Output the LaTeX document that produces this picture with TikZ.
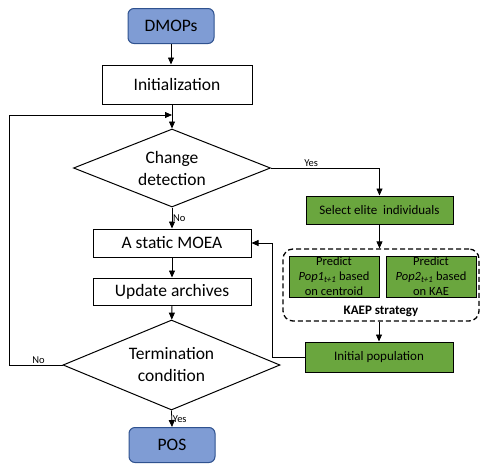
\documentclass[tikz,border=0pt]{standalone}
\usepackage{fontspec}
\setmainfont{Carlito}
\usetikzlibrary{shapes.geometric,arrows.meta}

\definecolor{boxblue}{RGB}{127,156,212}
\definecolor{edgeblue}{RGB}{47,82,143}
\definecolor{boxgreen}{RGB}{106,166,62}

\begin{document}
\begin{tikzpicture}[x=1pt,y=1pt,yscale=-1,xscale=1,
  startstop/.style={draw=edgeblue,fill=boxblue,rounded corners=6pt,line width=1pt,minimum width=86pt,minimum height=35pt,font=\fontsize{17.5}{21}\selectfont},
  process/.style={draw,line width=1pt,minimum height=28pt,font=\fontsize{17.5}{21}\selectfont},
  decision/.style={draw,diamond,line width=1pt,align=center,inner sep=0pt,font=\fontsize{17.5}{22}\selectfont},
  greenbox/.style={draw,fill=boxgreen,line width=1pt,font=\fontsize{13}{16}\selectfont},
  predict/.style={greenbox,align=center,inner sep=0pt,minimum width=90pt,minimum height=41pt,font=\fontsize{12.5}{15}\selectfont},
  flow/.style={-{Triangle[length=7pt,width=6pt]},line width=0.8pt},
  tag/.style={inner sep=0.75pt,font=\fontsize{10.5}{12}\selectfont}]
\useasboundingbox (0,0) rectangle (480,464);

% main column
\node [startstop] (dmops) at (171,26) {DMOPs};
\node [process,minimum width=150pt,minimum height=39pt] (init) at (177,84.5) {Initialization};
\node [decision,shape aspect=2.53,minimum width=197pt,minimum height=78pt] (change) at (172,168) {Change\\detection};
\node [process,minimum width=158pt] (moea) at (172,243) {A static MOEA};
\node [process,minimum width=158pt,minimum height=27pt] (update) at (172,291.5) {Update archives};
\node [decision,shape aspect=2.41,minimum width=217pt,minimum height=90pt] (term) at (171.5,365) {Termination\\condition};
\node [startstop] (pos) at (172,445) {POS};

% KAEP side
\node [greenbox,minimum width=147pt,minimum height=28pt] (elite) at (379.5,210) {Select elite\ \ individuals};
\node [draw,dash pattern={on 5pt off 3pt},line width=1.3pt,rounded corners=10pt,minimum width=196pt,minimum height=72pt] (kaep) at (381,285) {};
\node [predict] (pred1) at (334,276.5) {Predict\\\textit{Pop1}\textsubscript{\textit{t+1}} based\\on centroid};
\node [predict] (pred2) at (431,276.5) {Predict\\\textit{Pop2}\textsubscript{\textit{t+1}} based\\on KAE};
\node [inner sep=0.75pt,font=\fontsize{13}{15}\selectfont\bfseries] (kaeptext) at (381,311) {KAEP strategy};
\node [greenbox,minimum width=148pt,minimum height=30pt] (initpop) at (379,357) {Initial population};

\coordinate (loop) at (9,115);
\coordinate (back) at (272,243);

% Straight Lines
\draw [flow] (dmops.south) -- (dmops.south |- init.north);
\draw [flow] (change.north |- init.south) -- (change.north);
\draw [flow] (change.south) -- (moea.north) node [tag,midway,right] {No};
\draw [flow] (moea) -- (update);
\draw [flow] (update) -- (term);
\draw [flow] (term.south) -- (pos.north) node [tag,midway,right] {Yes};
\draw [flow] (term.west) -- (term.west -| loop) node [tag,pos=0.45,above] {No} -- (loop) -- (loop -| change.north);
\draw [flow] (change.east) -- (change.east -| elite.north) node [tag,pos=0.37,above] {Yes} -- (elite.north);
\draw [flow] (elite.south) -- (elite.south |- kaep.north);
\draw [flow] (initpop.north |- kaep.south) -- (initpop.north);
\draw [flow] (initpop.west) -- (initpop.west -| back) -- (back) -- (moea.east);

\end{tikzpicture}
\end{document}
